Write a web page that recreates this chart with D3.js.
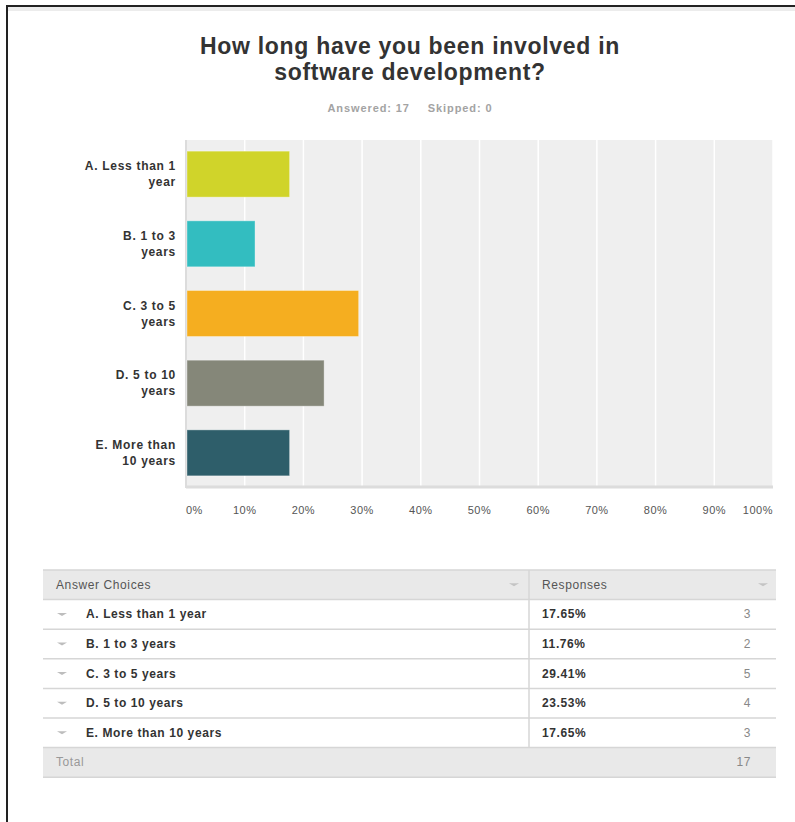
<!DOCTYPE html>
<html>
<head>
<meta charset="utf-8">
<script src="https://cdn.jsdelivr.net/npm/d3@7"></script>
<style>
  body { margin: 0; background: #fff; }
  svg { display: block; font-family: "Liberation Sans", Arial, sans-serif; }
</style>
</head>
<body>
<svg id="chart"></svg>
<script>
const width = 795;
const height = 822;

// survey data
const choices = ['A. Less than 1 year', 'B. 1 to 3 years', 'C. 3 to 5 years', 'D. 5 to 10 years', 'E. More than 10 years'];
const labelLines = [['A. Less than 1', 'year'], ['B. 1 to 3', 'years'], ['C. 3 to 5', 'years'], ['D. 5 to 10', 'years'], ['E. More than', '10 years']];
const percents = [17.65, 11.76, 29.41, 23.53, 17.65];
const counts = [3, 2, 5, 4, 3];
const total = 17;
const skipped = 0;
const tickValues = [0, 10, 20, 30, 40, 50, 60, 70, 80, 90, 100];
const barColors = ['#d0d42a', '#33bdc0', '#f5ae20', '#858779', '#2e5e6a'];

const svg = d3.select('#chart').attr('width', width).attr('height', height);

// frame
svg.append('rect').attr('x', 8).attr('y', 7).attr('width', width).attr('height', 4).attr('fill', '#ececec');
svg.append('line').attr('x1', 7).attr('x2', width).attr('y1', 6).attr('y2', 6).attr('stroke', '#222').attr('stroke-width', 2);
svg.append('line').attr('x1', 7).attr('x2', 7).attr('y1', 5).attr('y2', height).attr('stroke', '#222').attr('stroke-width', 2);

// title
const title = svg.append('text').attr('text-anchor', 'middle')
    .attr('font-size', 23).attr('font-weight', 'bold').attr('fill', '#333').attr('letter-spacing', 0.7);
title.append('tspan').attr('x', 410).attr('y', 54).text('How long have you been involved in');
title.append('tspan').attr('x', 410).attr('y', 80).text('software development?');

const sub = svg.append('text').attr('x', 410).attr('y', 112).attr('text-anchor', 'middle')
    .attr('font-size', 11).attr('font-weight', 'bold').attr('fill', '#a3a3a3').attr('letter-spacing', 0.9);
sub.append('tspan').text('Answered: ' + total);
sub.append('tspan').attr('dx', 18).text('Skipped: ' + skipped);

// bar chart
const plot = {left: 186, right: 773, top: 140, bottom: 487};

const x = d3.scaleLinear().domain([0, 100]).range([plot.left, plot.right]);
const y = d3.scaleBand().domain(choices).range([plot.top, plot.bottom]).paddingInner(0.34).paddingOuter(0.16);

svg.append('rect').attr('x', plot.left).attr('y', plot.top)
    .attr('width', plot.right - plot.left).attr('height', plot.bottom - plot.top)
    .attr('fill', '#efefef');

svg.append('g').selectAll('line').data(tickValues.slice(1)).enter().append('line')
    .attr('x1', d => x(d)).attr('x2', d => x(d))
    .attr('y1', plot.top).attr('y2', plot.bottom)
    .attr('stroke', '#fff').attr('stroke-width', 1.5);

svg.append('line').attr('x1', plot.left).attr('x2', plot.left).attr('y1', plot.top).attr('y2', plot.bottom + 1)
    .attr('stroke', '#dcdcdc').attr('stroke-width', 2);
svg.append('line').attr('x1', plot.left).attr('x2', plot.right).attr('y1', plot.bottom).attr('y2', plot.bottom)
    .attr('stroke', '#dcdcdc').attr('stroke-width', 3);

svg.append('g').selectAll('rect').data(choices).enter().append('rect')
    .attr('x', x(0) + 1)
    .attr('y', d => y(d))
    .attr('width', (d, i) => x(percents[i]) - x(0) - 1)
    .attr('height', y.bandwidth())
    .attr('fill', (d, i) => barColors[i])
    .attr('stroke', 'rgba(255,255,255,0.35)').attr('stroke-width', 1);

// category labels
const labels = svg.append('g').attr('font-size', 12).attr('font-weight', 'bold').attr('fill', '#333')
    .attr('text-anchor', 'end').attr('letter-spacing', 0.7);
choices.forEach((c, i) => {
    const cy = y(c) + y.bandwidth() / 2;
    const t = labels.append('text');
    labelLines[i].forEach((line, j) => {
        t.append('tspan').attr('x', 176).attr('y', cy - 4 + j * 16).text(line);
    });
});

// x axis labels
svg.append('g').attr('font-size', 11).attr('fill', '#555').attr('letter-spacing', 0.5)
    .selectAll('text').data(tickValues).enter().append('text')
    .attr('x', d => x(d))
    .attr('y', 514)
    .attr('text-anchor', (d, i) => i == 0 ? 'start' : (i == tickValues.length - 1 ? 'end' : 'middle'))
    .text(d => d + '%');

// table
const tbl = {left: 43, right: 776, divider: 529, headerTop: 570, rowH: 29.6};
const rowTop = i => tbl.headerTop + tbl.rowH * (i + 1);

svg.append('rect').attr('x', tbl.left).attr('y', tbl.headerTop).attr('width', tbl.right - tbl.left).attr('height', tbl.rowH)
    .attr('fill', '#e9e9e9');
svg.append('rect').attr('x', tbl.left).attr('y', rowTop(choices.length)).attr('width', tbl.right - tbl.left).attr('height', tbl.rowH)
    .attr('fill', '#e9e9e9');

const lineYs = d3.range(choices.length + 3).map(i => tbl.headerTop + tbl.rowH * i);
svg.append('g').selectAll('line').data(lineYs).enter().append('line')
    .attr('x1', tbl.left).attr('x2', tbl.right)
    .attr('y1', d => d).attr('y2', d => d)
    .attr('stroke', '#d6d6d6').attr('stroke-width', 1.5);

svg.append('line').attr('x1', tbl.divider).attr('x2', tbl.divider)
    .attr('y1', tbl.headerTop).attr('y2', rowTop(choices.length))
    .attr('stroke', '#d6d6d6').attr('stroke-width', 1.5);

const tri = (cx, cy) => `M${cx - 5},${cy - 1.5}L${cx + 5},${cy - 1.5}L${cx},${cy + 1.5}Z`;

const tableText = svg.append('g').attr('font-size', 12).attr('letter-spacing', 0.6);

const headY = tbl.headerTop + tbl.rowH / 2;
tableText.append('text').attr('x', 56).attr('y', headY + 4).attr('fill', '#555').text('Answer Choices');
tableText.append('text').attr('x', 542).attr('y', headY + 4).attr('fill', '#555').text('Responses');
svg.append('path').attr('d', tri(514, headY)).attr('fill', '#c4c4c4');
svg.append('path').attr('d', tri(763, headY)).attr('fill', '#c4c4c4');

const rows = tableText.append('g').selectAll('g').data(choices).enter().append('g')
    .attr('transform', (d, i) => `translate(0, ${rowTop(i) + tbl.rowH / 2})`);
rows.append('path').attr('d', tri(62, 0)).attr('fill', '#bdbdbd');
rows.append('text').attr('x', 86).attr('y', 4).attr('font-weight', 'bold').attr('fill', '#333').text(d => d);
rows.append('text').attr('x', 542).attr('y', 4).attr('font-weight', 'bold').attr('fill', '#333')
    .text((d, i) => percents[i].toFixed(2) + '%');
rows.append('text').attr('x', 751).attr('y', 4).attr('text-anchor', 'end').attr('fill', '#888')
    .text((d, i) => counts[i]);

const totY = rowTop(choices.length) + tbl.rowH / 2;
tableText.append('text').attr('x', 56).attr('y', totY + 4).attr('fill', '#999').text('Total');
tableText.append('text').attr('x', 751).attr('y', totY + 4).attr('text-anchor', 'end').attr('fill', '#888').text(total);
</script>
</body>
</html>
